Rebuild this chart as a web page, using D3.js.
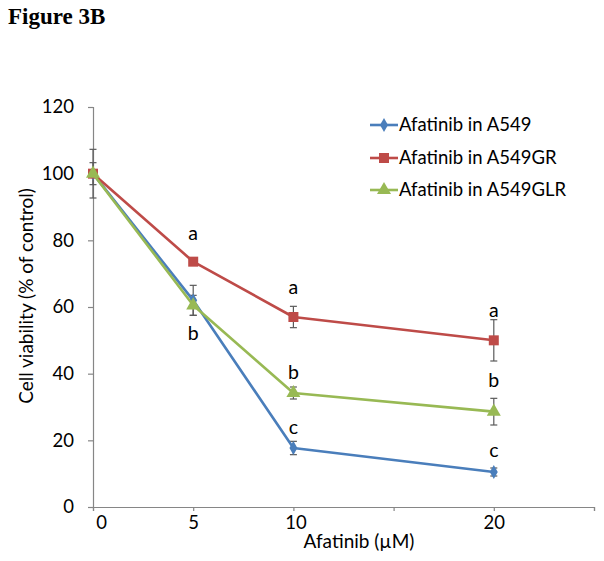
<!DOCTYPE html>
<html><head><meta charset="utf-8">
<script src="https://cdn.jsdelivr.net/npm/d3@7"></script>
<style>body{margin:0;background:#fff}</style>
</head><body>
<script>
const doses = [0, 5, 10, 20];
const seriesNames = ["Afatinib in A549", "Afatinib in A549GR", "Afatinib in A549GLR"];
const a549 = [100, 62, 17.7, 10.5];
const a549Err = [7.3, 4.5, 2.0, 1.2];
const a549GR = [100, 73.6, 57, 50];
const a549GRErr = [0.6, 0.6, 3.2, 6.2];
const a549GLR = [100, 60.5, 34.2, 28.6];
const a549GLRErr = [3.3, 3.0, 1.8, 4.0];
const grLetters = ["", "a", "a", "a"];
const glrLetters = ["", "b", "b", "b"];
const a549Letters = ["", "", "c", "c"];
const yTicks = [0, 20, 40, 60, 80, 100, 120];
const xTicks = [0, 5, 10, 15, 20, 25];
const xTickLabels = ["0", "5", "10", "", "20", ""];

const W = 604, H = 561;
const svg = d3.select("body").append("svg").attr("width", W).attr("height", H);
const font = "Lato, 'Open Sans', sans-serif";

svg.append("text").attr("x", 8).attr("y", 24).text("Figure 3B")
  .attr("font-family", "'Liberation Serif', 'Times New Roman', serif")
  .attr("font-weight", "bold").attr("font-size", 23).attr("fill", "#000");

const x = d3.scaleLinear().domain([0, 25]).range([93, 594]);
const y = d3.scaleLinear().domain([0, 120]).range([507, 107]);
const axisColor = "#868686";

const yAxis = svg.append("g").attr("transform", "translate(93,0)")
  .call(d3.axisLeft(y).tickValues(yTicks).tickSize(5).tickPadding(14));
const xAxis = svg.append("g").attr("transform", "translate(0,507)")
  .call(d3.axisBottom(x).tickValues(xTicks).tickSize(4).tickPadding(5)
    .tickFormat((d, i) => xTickLabels[i]));
[yAxis, xAxis].forEach(g => {
  g.selectAll("path,line").attr("stroke", axisColor).attr("stroke-width", 1.2);
  g.selectAll("text").attr("font-family", font).attr("font-size", 18.5).attr("fill", "#000");
});
xAxis.selectAll(".tick text").attr("dx", d => d === 0 ? 8 : (d === 10 ? 2 : 0));

svg.append("text").attr("transform", "translate(33,296) rotate(-90)")
  .attr("text-anchor", "middle").attr("font-family", font).attr("font-size", 19)
  .text("Cell viability (% of control)");
svg.append("text").attr("x", 359).attr("y", 548).attr("text-anchor", "middle")
  .attr("font-family", font).attr("font-size", 19).text("Afatinib (µM)");

const series = [
  {name: seriesNames[0], vals: a549, err: a549Err, color: "#4A7EBB", marker: "diamond"},
  {name: seriesNames[1], vals: a549GR, err: a549GRErr, color: "#BE4B48", marker: "square"},
  {name: seriesNames[2], vals: a549GLR, err: a549GLRErr, color: "#98B954", marker: "triangle"}
];
const sym = {
  diamond: d3.symbol().type(d3.symbolDiamond).size(55),
  square: d3.symbol().type(d3.symbolSquare).size(100),
  triangle: d3.symbol().type(d3.symbolTriangle).size(85)
};

// error bars
series.forEach(s => {
  const g = svg.append("g");
  doses.forEach((d, i) => {
    const cx = x(d), y1 = y(s.vals[i] + s.err[i]), y2 = y(s.vals[i] - s.err[i]);
    g.append("line").attr("x1", cx).attr("x2", cx).attr("y1", y1).attr("y2", y2)
      .attr("stroke", "#5a5a5a").attr("stroke-width", 1.2);
    [y1, y2].forEach(yy => g.append("line").attr("x1", cx - 3.5).attr("x2", cx + 3.5)
      .attr("y1", yy).attr("y2", yy).attr("stroke", "#5a5a5a").attr("stroke-width", 1.2));
  });
});

const line = d3.line().x((d, i) => x(doses[i])).y(d => y(d));
series.forEach(s => {
  svg.append("path").datum(s.vals).attr("d", line).attr("fill", "none")
    .attr("stroke", s.color).attr("stroke-width", 2.6).attr("stroke-linejoin", "round");
  svg.append("g").selectAll("path").data(s.vals).join("path")
    .attr("transform", (d, i) => `translate(${x(doses[i])},${y(d)})`)
    .attr("d", sym[s.marker]).attr("fill", s.color);
});

// significance letters
const letterPos = [
  {letters: grLetters, ys: [0, 233, 287, 310]},
  {letters: glrLetters, ys: [0, 333, 372, 380]},
  {letters: a549Letters, ys: [0, 0, 427, 450]}
];
letterPos.forEach(lp => {
  doses.forEach((d, i) => {
    if (!lp.letters[i]) return;
    svg.append("text").attr("x", x(d)).attr("y", lp.ys[i]).attr("dy", "0.35em")
      .attr("text-anchor", "middle").attr("font-family", font).attr("font-size", 19.5)
      .text(lp.letters[i]);
  });
});

// legend
const legendY = [125, 158, 190];
series.forEach((s, i) => {
  const g = svg.append("g").attr("transform", `translate(370,${legendY[i]})`);
  g.append("line").attr("x1", 0).attr("x2", 28).attr("stroke", s.color).attr("stroke-width", 2.6);
  g.append("path").attr("transform", "translate(14,0)").attr("d", sym[s.marker]).attr("fill", s.color);
  g.append("text").attr("x", 29).attr("dy", "0.35em").attr("font-family", font)
    .attr("font-size", 18.5).text(s.name);
});
</script>
</body></html>
